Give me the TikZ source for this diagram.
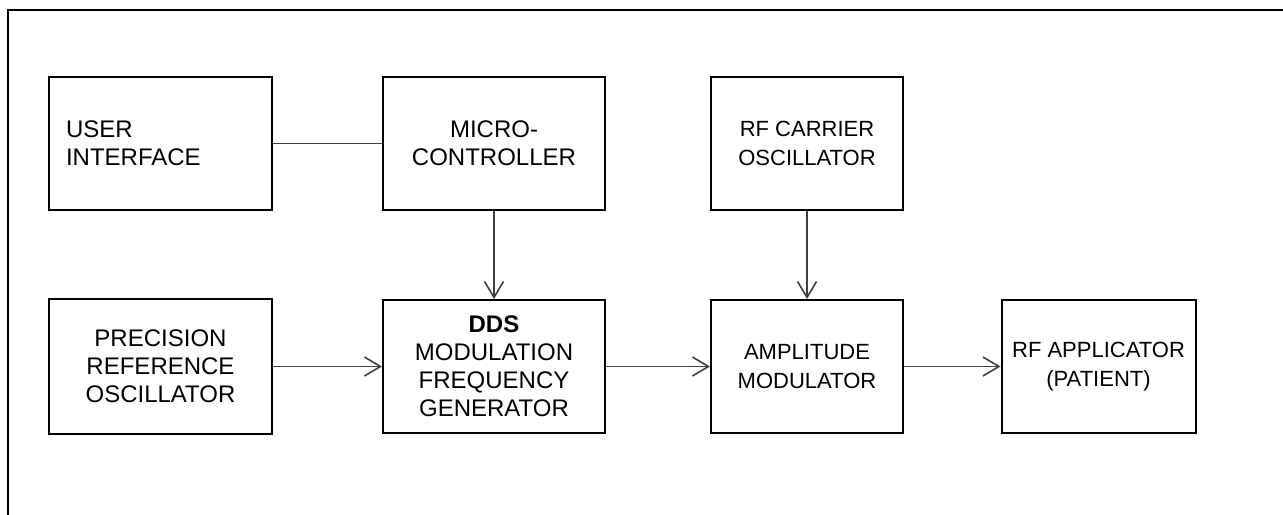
\documentclass[tikz,border=0pt]{standalone}
\usepackage{fontspec}
\setmainfont{Liberation Sans}
\usetikzlibrary{arrows.meta}

\tikzset{
  blk/.style={draw,line width=1pt,minimum height=66.5pt,inner sep=0pt,align=center,
    font=\fontsize{12}{14}\selectfont},
  blksmall/.style={blk,font=\fontsize{11}{14.5}\selectfont},
  wire/.style={draw=black!75,line width=.8pt},
  tip/.style={-{Straight Barb[length=8pt,width=9.5pt,line width=.8pt]}}
}

\begin{document}
\begin{tikzpicture}[x=.5pt,y=-.5pt]
\useasboundingbox (0,0) rectangle (1283,514);
\draw[line width=1pt] (8,540) -- (8,10) -- (1300,10);
% top row
\node[blk,minimum width=111.5pt,text width=94.5pt,align=left] (ui) at (160.5,143.5) {USER\\INTERFACE};
\node[blk,minimum width=111pt] (mcu) at (494,143.5) {MICRO-\\CONTROLLER};
\node[blksmall,minimum width=96pt] (rfosc) at (807,143.5) {RF CARRIER\\OSCILLATOR};
% bottom row
\node[blk,minimum width=111.5pt,minimum height=67.5pt] (pref) at (160.5,366.5) {PRECISION\\REFERENCE\\OSCILLATOR};
\node[blk,minimum width=111pt] (dds) at (494,366.5) {\textbf{DDS}\\MODULATION\\FREQUENCY\\GENERATOR};
\node[blksmall,minimum width=96pt] (am) at (807,366.5) {AMPLITUDE\\MODULATOR};
\node[blksmall,minimum width=97pt] (rfapp) at (1098.5,366.5) {RF APPLICATOR\\(PATIENT)};
% connections
\draw[wire] (ui) -- (mcu);
\draw[wire,tip] (mcu) -- (dds);
\draw[wire,tip] (rfosc) -- (am);
\draw[wire,tip] (pref) -- (dds);
\draw[wire,tip] (dds) -- (am);
\draw[wire,tip] (am) -- (rfapp);
\end{tikzpicture}
\end{document}
